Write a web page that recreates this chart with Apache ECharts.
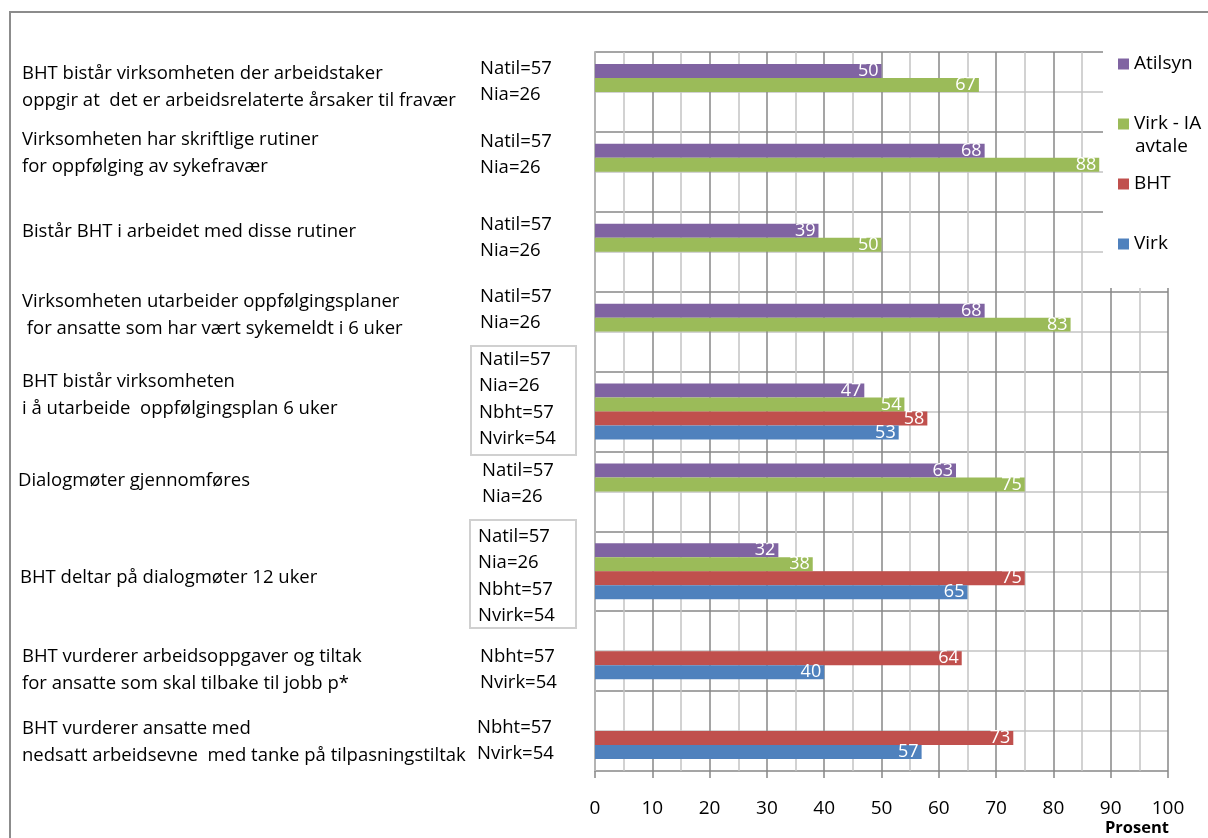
<!DOCTYPE html>
<html>
<head>
<meta charset="utf-8">
<script src="https://cdn.jsdelivr.net/npm/echarts@6/dist/echarts.min.js"></script>
<style>
html, body { margin: 0; padding: 0; background: #fff; }
#main { width: 1208px; height: 838px; }
</style>
</head>
<body>
<div id="main"></div>
<script>
// spørsmål (kategorier), ovenfra og ned
var categories = [
    'BHT bistår virksomheten der arbeidstaker\noppgir at  det er arbeidsrelaterte årsaker til fravær',
    'Virksomheten har skriftlige rutiner\nfor oppfølging av sykefravær',
    'Bistår BHT i arbeidet med disse rutiner',
    'Virksomheten utarbeider oppfølgingsplaner\n for ansatte som har vært sykemeldt i 6 uker',
    'BHT bistår virksomheten\ni å utarbeide  oppfølgingsplan 6 uker',
    'Dialogmøter gjennomføres',
    'BHT deltar på dialogmøter 12 uker',
    'BHT vurderer arbeidsoppgaver og tiltak\nfor ansatte som skal tilbake til jobb p*',
    'BHT vurderer ansatte med\nnedsatt arbeidsevne  med tanke på tilpasningstiltak'
];
var nLabels = [
    'Natil=57\nNia=26',
    'Natil=57\nNia=26',
    'Natil=57\nNia=26',
    'Natil=57\nNia=26',
    'Natil=57\nNia=26\nNbht=57\nNvirk=54',
    'Natil=57\nNia=26',
    'Natil=57\nNia=26\nNbht=57\nNvirk=54',
    'Nbht=57\nNvirk=54',
    'Nbht=57\nNvirk=54'
];
var seriesNames = ['Atilsyn', 'Virk - IA avtale', 'BHT', 'Virk'];
var atilsyn = [50, 68, 39, 68, 47, 63, 32, null, null];
var virkIA  = [67, 88, 50, 83, 54, 75, 38, null, null];
var bht     = [null, null, null, null, 58, null, 75, 64, 73];
var virk    = [null, null, null, null, 53, null, 65, 40, 57];
var xTicks  = [0, 10, 20, 30, 40, 50, 60, 70, 80, 90, 100];

var colors = ['#8064A2', '#9BBB59', '#C0504D', '#4F81BD'];
var font = 'Open Sans';

// plassering av tekstboksene til venstre (x, y topp)
var catPos = [[22, 60], [22, 126], [22, 218], [22, 288], [22, 368], [18, 467], [20, 564], [22, 643], [22, 715]];
var nPos = [[480, 55], [480, 128], [480, 211], [480, 283], [479, 346], [482, 457], [478, 523], [480, 643], [477, 714]];
var boxes = [[471, 346, 105, 109], [470, 520, 106, 108]];

var graphics = [];
graphics.push({
    type: 'rect',
    shape: { x: 10, y: 12, width: 1230, height: 900 },
    style: { fill: 'none', stroke: '#8c8c8c', lineWidth: 2 }
});
categories.forEach(function (c, i) {
    graphics.push({
        type: 'text', x: catPos[i][0], y: catPos[i][1],
        style: { text: c, font: '18.5px ' + font, fill: '#000', lineHeight: 27 }
    });
});
nLabels.forEach(function (t, i) {
    graphics.push({
        type: 'text', x: nPos[i][0], y: nPos[i][1],
        style: { text: t, font: '18.5px ' + font, fill: '#000', lineHeight: 26.5 }
    });
});
boxes.forEach(function (b) {
    graphics.push({
        type: 'rect',
        shape: { x: b[0], y: b[1], width: b[2], height: b[3] },
        style: { fill: 'none', stroke: '#d0d0d0', lineWidth: 2 }
    });
});
graphics.push({
    type: 'text', x: 1135, y: 137, z: 10,
    style: { text: 'avtale', font: '19px ' + font, fill: '#000' }
});
graphics.push({
    type: 'text', x: 1137, y: 820, z: 10,
    style: { text: 'Prosent', font: 'bold 16.5px ' + font, fill: '#000', textAlign: 'center' }
});

var values = [atilsyn, virkIA, bht, virk];

var myChart = echarts.init(document.getElementById('main'));
myChart.setOption({
    animation: false,
    textStyle: { fontFamily: font },
    grid: { left: 595, right: 40, top: 52, bottom: 67 },
    legend: {
        orient: 'vertical',
        left: 1103,
        top: 42,
        padding: [12, 40, 34, 15],
        backgroundColor: '#fff',
        itemWidth: 11,
        itemHeight: 11,
        itemGap: 40,
        icon: 'rect',
        data: seriesNames,
        formatter: function (name) {
            return name === 'Virk - IA avtale' ? 'Virk - IA' : name;
        },
        textStyle: { fontSize: 19, color: '#000', lineHeight: 20, fontFamily: font }
    },
    xAxis: {
        type: 'value',
        min: xTicks[0],
        max: xTicks[xTicks.length - 1],
        interval: 10,
        axisLine: { show: false },
        axisTick: { show: true, length: 7, lineStyle: { color: '#878787', width: 1.5 } },
        axisLabel: { fontSize: 19, color: '#000', margin: 28, fontFamily: font },
        splitLine: { show: true, lineStyle: { color: '#878787', width: 1.5 } },
        minorTick: { show: false, splitNumber: 2 },
        minorSplitLine: { show: true, lineStyle: { color: '#c3c3c3', width: 1.5 } }
    },
    yAxis: [{
        type: 'category',
        inverse: true,
        data: categories,
        axisLine: { show: true, lineStyle: { color: '#b4b4b4', width: 2 } },
        axisTick: { show: false },
        axisLabel: { show: false },
        splitLine: { show: false }
    }, {
        // hjelpeakse for de vannrette rutenettlinjene (kategorigrense + midt)
        type: 'value',
        min: 0,
        max: categories.length * 2,
        interval: 1,
        position: 'right',
        axisLine: { show: false },
        axisTick: { show: false },
        axisLabel: { show: false },
        splitLine: { show: true, lineStyle: { color: ['#878787', '#c3c3c3'], width: 1.5 } }
    }],
    series: seriesNames.map(function (name, k) {
        return {
            name: name,
            type: 'bar',
            yAxisIndex: 0,
            barGap: '0%',
            barCategoryGap: '30%',
            itemStyle: { color: colors[k] },
            label: {
                show: true,
                position: 'insideRight',
                distance: 3,
                color: '#fff',
                fontSize: 18,
                fontFamily: font
            },
            data: values[k]
        };
    }),
    graphic: graphics
});
</script>
</body>
</html>
